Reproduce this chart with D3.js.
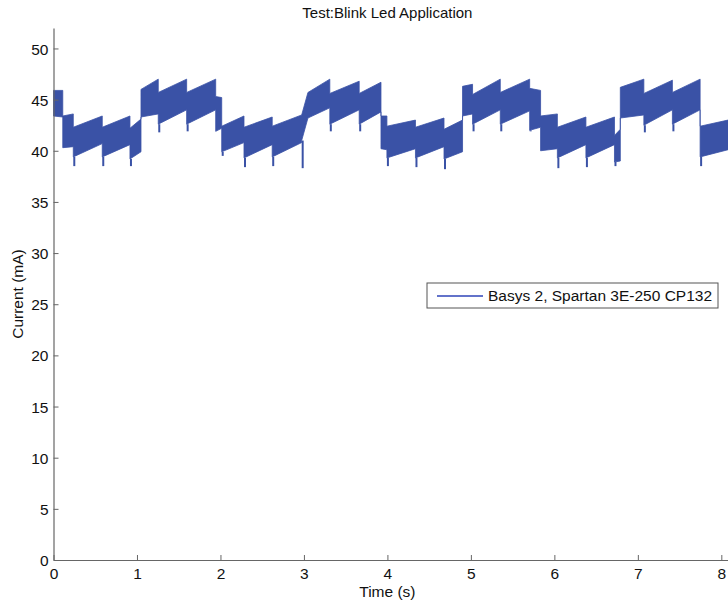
<!DOCTYPE html>
<html>
<head>
<meta charset="utf-8">
<script src="https://cdn.jsdelivr.net/npm/d3@7"></script>
<style>
  body { margin: 0; background: #fff; }
  text { font-family: "Liberation Sans", Arial, sans-serif; }
</style>
</head>
<body>
<svg id="chart" width="728" height="603"></svg>
<script>
// segment edges along the time axis (s), one more than segments
let segEdges = [0, 0.111, 0.237, 0.584, 0.916, 1.048, 1.255, 1.595, 1.943, 2.015, 2.282, 2.620,
    2.973, 3.048, 3.310, 3.662, 3.923, 3.994, 4.336, 4.678, 4.900, 5.020, 5.352, 5.704, 5.835,
    6.036, 6.378, 6.720, 6.790, 7.072, 7.414, 7.746, 8.08];
// upper envelope of the current band (mA) at start / end of each segment
let topStart = [45.9, 43.4, 42.3, 42.3, 42.2, 46.0, 45.7, 45.7, 45.3, 42.4, 42.3, 42.4,
    43.5, 45.7, 45.6, 45.6, 43.4, 42.4, 42.3, 42.1, 46.3, 45.5, 45.7, 46.1, 43.4, 42.3,
    42.3, 41.5, 46.2, 45.6, 45.7, 42.4];
let topEnd = [45.9, 43.6, 43.4, 43.4, 43.1, 47.0, 47.0, 47.0, 45.2, 43.4, 43.3, 43.5,
    45.7, 47.0, 46.8, 46.7, 43.4, 43.0, 43.2, 43.0, 46.5, 47.0, 47.0, 45.9, 43.6, 43.3,
    43.3, 42.1, 47.0, 46.9, 47.0, 43.0];
// lower envelope
let botStart = [43.4, 40.3, 39.4, 39.4, 39.2, 43.3, 42.6, 42.6, 41.9, 39.9, 39.3, 39.4,
    41.0, 43.2, 42.6, 42.6, 40.2, 39.3, 39.3, 39.2, 43.4, 42.6, 42.6, 42.0, 40.0, 39.3,
    39.3, 38.9, 43.2, 42.5, 42.6, 39.4];
let botEnd = [43.3, 40.4, 40.7, 40.6, 39.9, 43.6, 44.0, 44.0, 42.2, 40.8, 40.6, 40.8,
    43.2, 44.2, 44.0, 43.8, 40.1, 40.2, 40.4, 39.9, 43.6, 44.0, 43.9, 42.3, 40.2, 40.6,
    40.6, 39.0, 43.5, 44.0, 44.0, 40.1];
// short downward spikes at the start of a segment (null = none)
let dipLow = [null, null, 38.5, 38.5, 38.5, null, 41.8, 41.9, null, 39.5, 38.4, 38.5,
    38.3, null, 41.9, 41.9, null, 38.5, 38.4, 38.2, null, 41.9, 41.9, 41.9, null, 38.3,
    38.4, 38.5, null, 41.8, 41.9, 38.5];

let xTicks = [0, 1, 2, 3, 4, 5, 6, 7, 8];
let yTicks = [0, 5, 10, 15, 20, 25, 30, 35, 40, 45, 50];
let seriesName = "Basys 2, Spartan 3E-250 CP132";

let svg = d3.select('#chart');
let pad = {l: 53.5, r: 0, t: 28, b: 43};
let W = +svg.attr('width'), H = +svg.attr('height');

// the axes run a little past t = 8, up to the picture edge
let x = d3.scaleLinear().domain([0, 8.08]).range([pad.l, W - pad.r]);
let y = d3.scaleLinear().domain([0, 52]).range([H - pad.b, pad.t]);

let bandColor = "#3a52a6";
let axisColor = "#666";

// build band points from the segments
let pts = [];
for (let i = 0; i < topStart.length; i++) {
    pts.push({t: segEdges[i], hi: topStart[i], lo: botStart[i]});
    pts.push({t: segEdges[i + 1], hi: topEnd[i], lo: botEnd[i]});
}

let band = d3.area()
    .x(d => x(d.t))
    .y0(d => y(d.lo))
    .y1(d => y(d.hi));

svg.append("path")
    .datum(pts)
    .attr("d", band)
    .attr("fill", bandColor)
    .attr("stroke", bandColor)
    .attr("stroke-width", 0.8);

svg.append("g").selectAll("line")
    .data(dipLow.map((v, i) => ({v: v, i: i})).filter(d => d.v !== null))
    .enter().append("line")
    .attr("x1", d => x(segEdges[d.i]) + 1)
    .attr("x2", d => x(segEdges[d.i]) + 1)
    .attr("y1", d => y(botStart[d.i]))
    .attr("y2", d => y(d.v))
    .attr("stroke", bandColor)
    .attr("stroke-width", 2);

// axes
let xAxis = d3.axisBottom(x).tickValues(xTicks).tickSizeInner(-5).tickSizeOuter(0).tickPadding(8);
let yAxis = d3.axisLeft(y).tickValues(yTicks).tickSizeInner(-5).tickSizeOuter(0).tickPadding(5);

let gx = svg.append("g").attr("transform", "translate(0," + (H - pad.b) + ")").call(xAxis);
let gy = svg.append("g").attr("transform", "translate(" + pad.l + ",0)").call(yAxis);

[gx, gy].forEach(g => {
    g.select(".domain").attr("stroke", axisColor).attr("stroke-width", 1.2);
    g.selectAll(".tick line").attr("stroke", axisColor);
    g.selectAll(".tick text").attr("fill", "#111").attr("font-size", "15.5px")
        .attr("font-family", "'Liberation Sans', Arial, sans-serif");
});
gy.selectAll(".tick text").attr("dy", "0.36em");

// titles
let midX = (x(0) + x(8)) / 2;
svg.append("text")
    .attr("x", midX)
    .attr("y", 18)
    .attr("text-anchor", "middle")
    .attr("font-size", "15px")
    .attr("fill", "#111")
    .text("Test:Blink Led Application");

svg.append("text")
    .attr("x", midX)
    .attr("y", 597)
    .attr("text-anchor", "middle")
    .attr("font-size", "15.5px")
    .attr("fill", "#111")
    .text("Time (s)");

svg.append("text")
    .attr("transform", "translate(23," + ((pad.t + H - pad.b) / 2) + ") rotate(-90)")
    .attr("text-anchor", "middle")
    .attr("font-size", "15.5px")
    .attr("fill", "#111")
    .text("Current (mA)");

// legend
let legend = svg.append("g").attr("transform", "translate(427,283)");
legend.append("rect")
    .attr("width", 291).attr("height", 25)
    .attr("fill", "#fff").attr("stroke", "#555").attr("stroke-width", 1);
legend.append("line")
    .attr("x1", 10).attr("x2", 56).attr("y1", 13).attr("y2", 13)
    .attr("stroke", "#2f45b8").attr("stroke-width", 1.3);
legend.append("text")
    .attr("x", 61).attr("y", 18)
    .attr("font-size", "15.5px")
    .attr("fill", "#111")
    .text(seriesName);
</script>
</body>
</html>
